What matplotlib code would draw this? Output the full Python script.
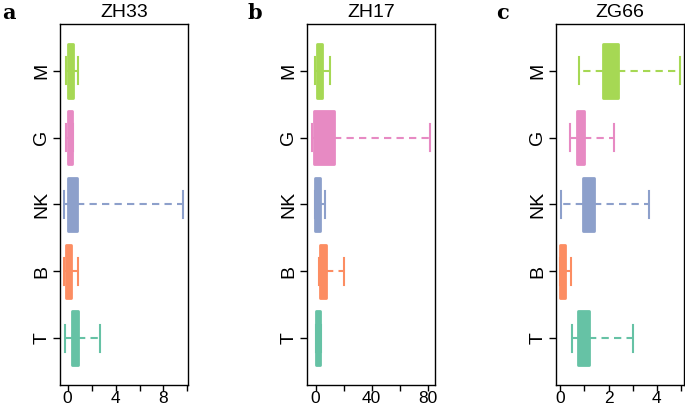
import matplotlib
matplotlib.use('Agg')
import matplotlib.pyplot as plt

cells = ['T', 'B', 'NK', 'G', 'M']
colors = ['#66C2A5', '#FC8D62', '#8DA0CB', '#E78AC3', '#A6D854']

# box statistics per panel, order T, B, NK, G, M
zh33_whislo = [-0.22, -0.28, -0.33, -0.10, -0.14]
zh33_q1 = [0.33, -0.17, 0.06, 0.00, 0.06]
zh33_med = [0.55, 0.05, 0.35, 0.15, 0.25]
zh33_q3 = [0.86, 0.25, 0.75, 0.33, 0.42]
zh33_whishi = [2.72, 0.83, 9.67, 0.47, 0.86]

zh17_whislo = [0.0, 2.4, -0.5, -2.8, -0.5]
zh17_q1 = [0.0, 3.5, -0.5, -1.2, 1.2]
zh17_med = [1.8, 5.5, 1.5, 5.0, 3.0]
zh17_q3 = [3.5, 7.8, 3.3, 13.2, 4.7]
zh17_whishi = [3.6, 20.5, 6.8, 81.6, 10.6]

zg66_whislo = [0.47, -0.01, 0.03, 0.39, 0.79]
zg66_q1 = [0.74, -0.01, 0.92, 0.69, 1.77]
zg66_med = [0.95, 0.08, 1.15, 0.82, 2.05]
zg66_q3 = [1.19, 0.19, 1.41, 0.97, 2.39]
zg66_whishi = [3.03, 0.44, 3.66, 2.21, 4.97]

panels = [
    ('a', 'ZH33', zh33_whislo, zh33_q1, zh33_med, zh33_q3, zh33_whishi,
     (-0.64, 10.05), [0, 2, 4, 6, 8, 10], ['0', '', '4', '', '8', '']),
    ('b', 'ZH17', zh17_whislo, zh17_q1, zh17_med, zh17_q3, zh17_whishi,
     (-6.1, 85.2), [0, 20, 40, 60, 80], ['0', '', '40', '', '80']),
    ('c', 'ZG66', zg66_whislo, zg66_q1, zg66_med, zg66_q3, zg66_whishi,
     (-0.18, 5.13), [0, 1, 2, 3, 4, 5], ['0', '', '2', '', '4', '']),
]

plt.rcParams['font.family'] = ['Liberation Sans', 'DejaVu Sans']

fig = plt.figure(figsize=(6.85, 4.11), dpi=100)
lefts = [60, 307, 556]
letter_x = [2, 247, 496]

for i, (letter, title, wlo, q1, med, q3, whi, xlim, ticks, labels) in enumerate(panels):
    ax = fig.add_axes([lefts[i] / 685, 26 / 411, 128 / 685, 361 / 411])
    stats = []
    for j in range(len(cells)):
        stats.append(dict(whislo=wlo[j], q1=q1[j], med=med[j], q3=q3[j],
                          whishi=whi[j], fliers=[], label=cells[j]))
    bp = ax.bxp(stats, positions=range(1, 6), widths=0.8, capwidths=0.4,
                orientation='horizontal', patch_artist=True,
                showfliers=False)
    for j, c in enumerate(colors):
        box = bp['boxes'][j]
        box.set_facecolor(c)
        box.set_edgecolor(c)
        box.set_linewidth(2)
        box.set_joinstyle('round')
        box.set_zorder(3)
        bp['medians'][j].set_color(c)
        bp['medians'][j].set_zorder(4)
        for w in bp['whiskers'][2 * j:2 * j + 2]:
            w.set_color(c)
            w.set_linewidth(1.5)
            w.set_linestyle((0, (3.5, 2.5)))
        for cap in bp['caps'][2 * j:2 * j + 2]:
            cap.set_color(c)
            cap.set_linewidth(1.5)
    ax.set_ylim(0.3, 5.7)
    ax.set_xlim(*xlim)
    ax.set_xticks(ticks)
    ax.set_xticklabels(labels, fontsize=12.5)
    ax.set_yticks(range(1, 6))
    ax.set_yticklabels(cells, fontsize=14, rotation=90, va='center')
    ax.tick_params(axis='both', length=5, width=1, direction='out', pad=2)
    ax.tick_params(axis='x', length=4, pad=0.5)
    for s in ax.spines.values():
        s.set_linewidth(1)
    ax.set_title(title, fontsize=14, pad=5)
    fig.text(letter_x[i] / 685, 1 - 19 / 411, letter, fontsize=15,
             fontweight='bold', family='DejaVu Serif')

fig.savefig('out.png', dpi=100)
